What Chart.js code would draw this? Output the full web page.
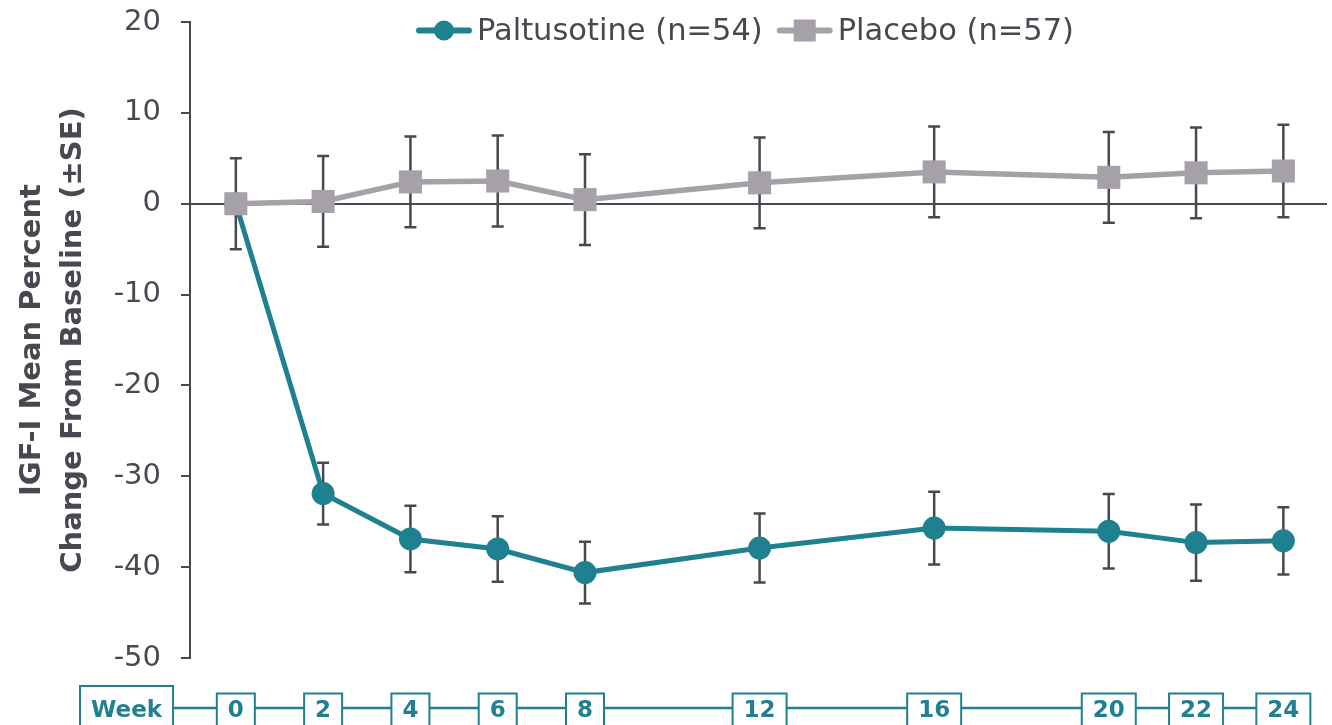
<!DOCTYPE html>
<html>
<head>
<meta charset="utf-8">
<script src="https://cdn.jsdelivr.net/npm/chart.js@4"></script>
<style>
  html, body { margin: 0; padding: 0; background: #ffffff; }
  #wrap { width: 1332px; height: 725px; }
</style>
</head>
<body>
<div id="wrap"><canvas id="chart" width="1332" height="725"></canvas></div>
<script>
// Study weeks (also the labels of the week strip under the plot)
const weeks = [0, 2, 4, 6, 8, 12, 16, 20, 22, 24];

// IGF-I mean percent change from baseline and its standard error
const paltusotineMean = [0, -31.9, -36.9, -38.0, -40.6, -37.9, -35.7, -36.05, -37.3, -37.1];
const paltusotineSE   = [0, 3.4, 3.65, 3.6, 3.4, 3.8, 4.0, 4.1, 4.2, 3.7];
const placeboMean     = [0, 0.25, 2.4, 2.5, 0.45, 2.3, 3.5, 2.9, 3.4, 3.6];
const placeboSE       = [5.0, 5.0, 5.0, 5.0, 5.0, 5.0, 5.0, 5.0, 5.0, 5.1];

const yTicks = [-50, -40, -30, -20, -10, 0, 10, 20];
const seriesNames = ['Paltusotine (n=54)', 'Placebo (n=57)'];
const axisTitle = ['IGF-I Mean Percent', 'Change From Baseline (±SE)'];
const weekLabel = 'Week';

const TEAL = '#1f8090';
const GREY = '#a6a1a9';
const INK = '#4a4750';
const FONT = '"DejaVu Sans", "Open Sans", sans-serif';

// ±SE whiskers, drawn beneath the lines and markers
const errorBars = {
  id: 'errorBars',
  beforeDatasetsDraw(chart) {
    const { ctx } = chart;
    const x = chart.scales.x, y = chart.scales.y;
    ctx.save();
    ctx.strokeStyle = INK;
    ctx.lineWidth = 2.5;
    const cap = 6;
    [[paltusotineMean, paltusotineSE], [placeboMean, placeboSE]].forEach(([mean, se]) => {
      weeks.forEach((w, i) => {
        if (!se[i]) return;
        const px = x.getPixelForValue(w);
        const top = y.getPixelForValue(mean[i] + se[i]);
        const bot = y.getPixelForValue(mean[i] - se[i]);
        ctx.beginPath();
        ctx.moveTo(px, top); ctx.lineTo(px, bot);
        ctx.moveTo(px - cap, top); ctx.lineTo(px + cap, top);
        ctx.moveTo(px - cap, bot); ctx.lineTo(px + cap, bot);
        ctx.stroke();
      });
    });
    ctx.restore();
  }
};

// Series key across the top: line-with-marker symbol followed by the name
const seriesKey = {
  id: 'seriesKey',
  afterDraw(chart) {
    const { ctx } = chart;
    ctx.save();
    ctx.font = '30.5px ' + FONT;
    const symW = 56, gapText = 5, gapItem = 14, cy = 30.5, baseline = 40;
    const items = [
      { name: seriesNames[0], color: TEAL, shape: 'circle' },
      { name: seriesNames[1], color: GREY, shape: 'rect' }
    ];
    const widths = items.map(it => ctx.measureText(it.name).width);
    const total = items.reduce((s, it, i) => s + symW + gapText + widths[i], 0) + gapItem;
    let x = 745 - total / 2;
    items.forEach((it, i) => {
      ctx.strokeStyle = it.color;
      ctx.lineWidth = 6;
      ctx.lineCap = 'round';
      ctx.beginPath();
      ctx.moveTo(x + 3, cy); ctx.lineTo(x + symW - 3, cy);
      ctx.stroke();
      ctx.fillStyle = it.color;
      if (it.shape === 'circle') {
        ctx.beginPath();
        ctx.arc(x + symW / 2, cy, 10, 0, Math.PI * 2);
        ctx.fill();
      } else {
        ctx.fillRect(x + symW / 2 - 11, cy - 11, 22, 22);
      }
      ctx.fillStyle = INK;
      ctx.textAlign = 'left';
      ctx.textBaseline = 'alphabetic';
      ctx.fillText(it.name, x + symW + gapText, baseline);
      x += symW + gapText + widths[i] + gapItem;
    });
    ctx.restore();
  }
};

// Boxed week labels joined by a rule, under the plot
const weekStrip = {
  id: 'weekStrip',
  afterDraw(chart) {
    const { ctx } = chart;
    const x = chart.scales.x;
    ctx.save();
    ctx.font = 'bold 23px ' + FONT;
    const padX = 11, lineY = 708, baseline = 716.5, boxBottom = 760;
    const weekLeft = 80;
    const weekW = ctx.measureText(weekLabel).width + 2 * padX;
    const centers = weeks.map(w => x.getPixelForValue(w));

    ctx.strokeStyle = TEAL;
    ctx.lineWidth = 2.5;
    ctx.beginPath();
    ctx.moveTo(weekLeft + weekW, lineY);
    ctx.lineTo(centers[centers.length - 1], lineY);
    ctx.stroke();

    const box = (left, top, w, label, cx) => {
      ctx.fillStyle = '#ffffff';
      ctx.fillRect(left, top, w, boxBottom - top);
      ctx.lineWidth = 2;
      ctx.strokeStyle = TEAL;
      ctx.strokeRect(left, top, w, boxBottom - top);
      ctx.fillStyle = TEAL;
      ctx.textAlign = 'center';
      ctx.textBaseline = 'alphabetic';
      ctx.fillText(label, cx, baseline);
    };
    box(weekLeft, 686, weekW, weekLabel, weekLeft + weekW / 2);
    weeks.forEach((w, i) => {
      const label = String(w);
      const bw = ctx.measureText(label).width + 2 * padX;
      box(centers[i] - bw / 2, 693.5, bw, label, centers[i]);
    });
    ctx.restore();
  }
};

const toPoints = (vals) => weeks.map((w, i) => ({ x: w, y: vals[i] }));

new Chart(document.getElementById('chart'), {
  type: 'line',
  data: {
    datasets: [
      {
        label: seriesNames[0],
        data: toPoints(paltusotineMean),
        borderColor: TEAL,
        backgroundColor: TEAL,
        borderWidth: 5,
        pointStyle: 'circle',
        pointRadius: 11.5,
        pointBorderWidth: 0,
        tension: 0,
        order: 1
      },
      {
        label: seriesNames[1],
        data: toPoints(placeboMean),
        borderColor: GREY,
        backgroundColor: GREY,
        borderWidth: 5.5,
        pointStyle: 'rect',
        pointRadius: 16.3,
        pointBorderWidth: 0,
        tension: 0,
        order: 0
      }
    ]
  },
  options: {
    responsive: false,
    animation: false,
    devicePixelRatio: 1,
    events: [],
    layout: { autoPadding: false, padding: { top: 22, bottom: 67, left: 0, right: 5 } },
    plugins: { legend: { display: false }, tooltip: { enabled: false } },
    scales: {
      x: { type: 'linear', display: false, min: -1.05, max: 25 },
      y: {
        min: yTicks[0],
        max: yTicks[yTicks.length - 1],
        afterFit(scale) {
          scale.width = 190;
          scale.paddingTop = 0;
          scale.paddingBottom = 0;
        },
        afterBuildTicks(scale) { scale.ticks = yTicks.map(v => ({ value: v })); },
        ticks: {
          color: INK,
          font: { family: FONT, size: 29 },
          padding: 20
        },
        grid: {
          drawOnChartArea: true,
          color: (c) => (c.tick && c.tick.value === 0 ? INK : 'rgba(0,0,0,0)'),
          lineWidth: 2,
          tickColor: INK,
          tickWidth: 2,
          tickLength: 9
        },
        border: { display: true, color: INK, width: 2 },
        title: {
          display: true,
          text: axisTitle,
          color: INK,
          font: { family: FONT, size: 29, weight: 'bold', lineHeight: '41px' },
          padding: { top: 12, bottom: 0 }
        }
      }
    }
  },
  plugins: [errorBars, seriesKey, weekStrip]
});
</script>
</body>
</html>
